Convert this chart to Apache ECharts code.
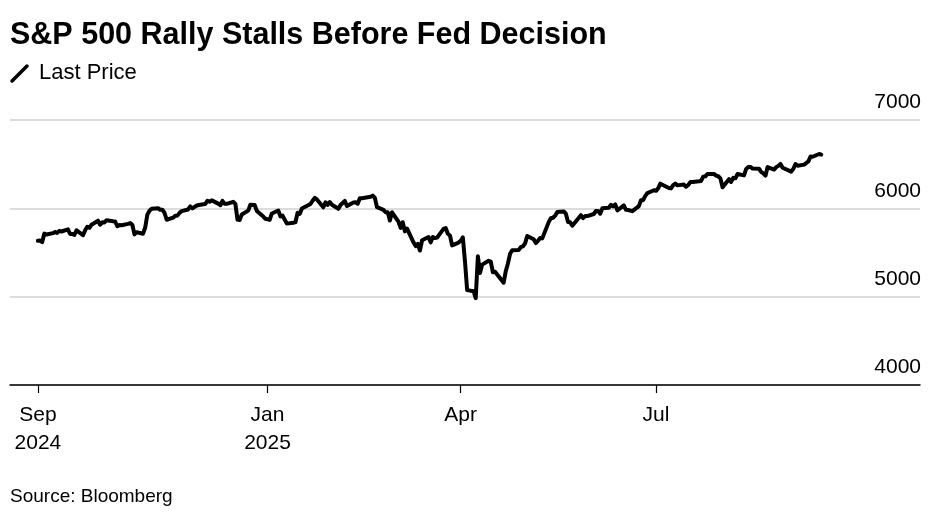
<!DOCTYPE html>
<html>
<head>
<meta charset="utf-8">
<script src="https://cdn.jsdelivr.net/npm/echarts@6/dist/echarts.min.js"></script>
<style>
html,body{margin:0;padding:0;background:#fff;}
#chart{width:933px;height:513px;}
</style>
</head>
<body>
<div id="chart"></div>
<script>
// ---- Data ----
const titleText = 'S&P 500 Rally Stalls Before Fed Decision';
const seriesName = 'Last Price';
const sourceText = 'Source: Bloomberg';

const firstDay = '2024-09-16';
const lastDay = '2025-09-16';
const tradingHolidays = ['2024-11-28','2024-12-25','2025-01-01','2025-01-09','2025-01-20',
  '2025-02-17','2025-04-18','2025-05-26','2025-06-19','2025-07-04','2025-09-01'];

const closes = [
  // Sep 2024 (from 16th)
  5633,5635,5618,5714,5703,5719,5733,5722,5745,5738,5762,
  // Oct 2024
  5709,5710,5700,5751,5696,5751,5792,5780,5815,5860,5815,5842,5841,5865,5854,5851,5797,5810,5808,5824,5833,5814,5705,
  // Nov 2024
  5729,5713,5783,5929,5973,5996,6001,5984,5985,5949,5871,5894,5917,5917,5949,5969,5987,6022,5999,6032,
  // Dec 2024
  6047,6050,6086,6075,6090,6053,6035,6084,6051,6051,6074,6051,5872,5867,5931,5974,6040,6038,5971,5907,5882,
  // Jan 2025
  5869,5942,5975,5909,5918,5827,5836,5843,5950,5937,5997,6049,6086,6119,6101,6012,6068,6039,6071,6041,
  // Feb 2025
  5995,6038,6061,6084,6026,6066,6069,6052,6115,6115,6130,6144,6118,6013,5983,5955,5956,5862,5955,
  // Mar 2025
  5850,5778,5843,5739,5770,5615,5572,5599,5522,5639,5675,5615,5675,5663,5668,5768,5777,5712,5693,5581,5612,
  // Apr 2025
  5633,5671,5397,5074,5062,4983,5457,5268,5363,5406,5397,5276,5283,5158,5288,5376,5485,5525,5529,5561,5569,
  // May 2025
  5604,5687,5650,5607,5631,5664,5660,5844,5887,5893,5917,5958,5964,5940,5845,5842,5803,5922,5889,5912,5912,
  // Jun 2025
  5936,5970,5971,5939,6000,6006,6039,6022,6045,5977,6033,5983,5981,5968,6025,6092,6092,6141,6173,6205,
  // Jul 2025
  6198,6227,6279,6230,6226,6263,6280,6260,6269,6244,6264,6297,6297,6306,6310,6359,6363,6389,6390,6371,6363,6339,
  // Aug 2025
  6238,6330,6299,6345,6340,6389,6373,6446,6467,6469,6450,6449,6411,6396,6370,6467,6439,6466,6481,6502,6460,
  // Sep 2025
  6416,6448,6502,6482,6495,6513,6532,6587,6584,6615,6607
];

const xRangeStart = '2024-09-03';
const xRangeEnd = '2025-11-01';
const xTickDates = ['2024-09-16','2025-01-01','2025-04-01','2025-07-01'];
const xTickLabels = ['Sep\n2024','Jan\n2025','Apr','Jul'];
const yMin = 4000, yMax = 7000, yStep = 1000;

// ---- Build ----
const ts = s => { const [y,m,d] = s.split('-').map(Number); return Date.UTC(y, m-1, d); };
const holidaySet = new Set(tradingHolidays.map(ts));
const dates = [];
for (let t = ts(firstDay); t <= ts(lastDay); t += 86400000) {
  const wd = new Date(t).getUTCDay();
  if (wd === 0 || wd === 6 || holidaySet.has(t)) continue;
  dates.push(t);
}
if (dates.length !== closes.length) console.error('length mismatch', dates.length, closes.length);
const lineData = closes.map((v, i) => [dates[i], v]);
const tickVals = xTickDates.map(ts);
const labelMap = {};
tickVals.forEach((t, i) => labelMap[t] = xTickLabels[i]);

const FONT = '"Liberation Sans", Arial, Helvetica, sans-serif';
const chart = echarts.init(document.getElementById('chart'), null, {renderer: 'canvas'});
chart.setOption({
  animation: false,
  backgroundColor: '#fff',
  grid: {left: 10, right: 13, top: 120, bottom: 128, containLabel: false},
  xAxis: {
    type: 'value',
    min: ts(xRangeStart),
    max: ts(xRangeEnd),
    axisLine: {show: true, lineStyle: {color: '#000', width: 1.5}},
    axisTick: {show: true, customValues: tickVals, length: 8, lineStyle: {color: '#000', width: 1.2}},
    axisLabel: {
      customValues: tickVals,
      formatter: v => labelMap[v] || '',
      color: '#000', fontFamily: FONT, fontSize: 21, lineHeight: 28, margin: 16
    },
    splitLine: {show: false}
  },
  yAxis: {
    type: 'value',
    position: 'right',
    min: yMin, max: yMax, interval: yStep,
    axisLine: {show: false},
    axisTick: {show: false},
    axisLabel: {
      inside: true, margin: -1, align: 'right', verticalAlign: 'bottom',
      formatter: v => String(v),
      color: '#000', fontFamily: FONT, fontSize: 21, lineHeight: 21, padding: [0, 0, 7, 0]
    },
    splitLine: {show: true, lineStyle: {color: '#dcdcdc', width: 2}}
  },
  series: [{
    name: seriesName,
    type: 'line',
    data: lineData,
    showSymbol: false,
    symbol: 'none',
    lineStyle: {color: '#000', width: 4, join: 'round', cap: 'round'},
    z: 5
  }],
  graphic: [
    {type: 'text', left: 10, top: 20, style: {text: titleText, fontFamily: FONT, fontWeight: 'bold', fontSize: 30.5, fill: '#000'}},
    {type: 'line', shape: {x1: 12, y1: 81, x2: 27, y2: 66}, style: {stroke: '#000', lineWidth: 3.5, lineCap: 'round'}},
    {type: 'text', x: 39, y: 73, style: {text: seriesName, fontFamily: FONT, fontSize: 22, fill: '#000', verticalAlign: 'middle'}},
    {type: 'text', x: 10, y: 497, style: {text: sourceText, fontFamily: FONT, fontSize: 19, fill: '#000', verticalAlign: 'middle'}}
  ]
});
</script>
</body>
</html>
